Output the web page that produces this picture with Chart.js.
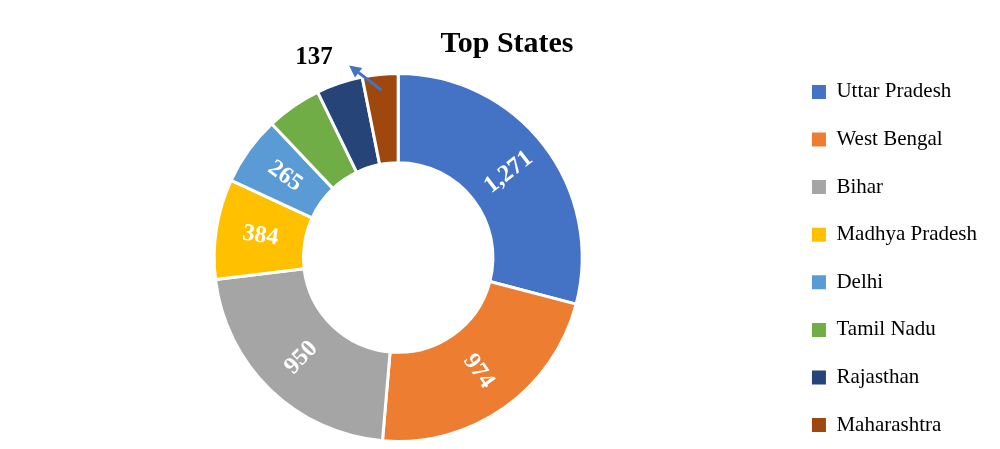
<!DOCTYPE html>
<html>
<head>
<meta charset="utf-8">
<script src="https://cdn.jsdelivr.net/npm/chart.js@4"></script>
<style>
html,body{margin:0;padding:0;background:#fff;}
#wrap{width:1000px;height:449px;}
</style>
</head>
<body>
<div id="wrap"><canvas id="c" width="1000" height="449"></canvas></div>
<script>
// ---- data ----
const categories = ['Uttar Pradesh', 'West Bengal', 'Bihar', 'Madhya Pradesh', 'Delhi', 'Tamil Nadu', 'Rajasthan', 'Maharashtra'];
const cases = [1271, 974, 950, 384, 265, 212, 178, 137];
const sliceColors = ['#4472C4', '#ED7D31', '#A5A5A5', '#FFC000', '#5B9BD5', '#70AD47', '#264478', '#9E480E'];
const labelMode = ['inside', 'inside', 'inside', 'inside', 'inside', 'none', 'none', 'callout'];
const chartTitle = 'Top States';

const SERIF = '"Liberation Serif", "Times New Roman", serif';

const sliceLabels = {
  id: 'sliceLabels',
  afterDatasetsDraw(chart) {
    const ctx = chart.ctx;
    const meta = chart.getDatasetMeta(0);
    const data = chart.data.datasets[0].data;
    meta.data.forEach((arc, i) => {
      const mode = labelMode[i];
      if (mode === 'none') return;
      const p = arc.getProps(['x', 'y', 'startAngle', 'endAngle', 'outerRadius', 'innerRadius'], true);
      const mid = (p.startAngle + p.endAngle) / 2;
      const c = Math.cos(mid), s = Math.sin(mid);
      const text = data[i].toLocaleString('en-US');
      ctx.save();
      if (mode === 'inside') {
        const r = (p.innerRadius + p.outerRadius) / 2;
        let rot = mid;
        if (c < 0) rot += Math.PI;
        ctx.translate(p.x + c * r, p.y + s * r);
        ctx.rotate(rot);
        ctx.font = 'bold 24px ' + SERIF;
        ctx.fillStyle = '#ffffff';
        ctx.textAlign = 'center';
        ctx.textBaseline = 'middle';
        ctx.fillText(text, 0, 0);
      } else {
        const ox = p.x + c * p.outerRadius, oy = p.y + s * p.outerRadius;
        const sx = p.x + c * (p.outerRadius - 16), sy = p.y + s * (p.outerRadius - 16);
        const tx = ox - 31, ty = oy - 9;
        const ang = Math.atan2(ty - sy, tx - sx);
        const headLen = 12, headW = 6;
        const bx = tx - Math.cos(ang) * headLen, by = ty - Math.sin(ang) * headLen;
        ctx.strokeStyle = '#4472C4';
        ctx.fillStyle = '#4472C4';
        ctx.lineWidth = 3;
        ctx.beginPath();
        ctx.moveTo(sx, sy);
        ctx.lineTo(bx, by);
        ctx.stroke();
        ctx.beginPath();
        ctx.moveTo(tx, ty);
        ctx.lineTo(bx + Math.sin(ang) * headW, by - Math.cos(ang) * headW);
        ctx.lineTo(bx - Math.sin(ang) * headW, by + Math.cos(ang) * headW);
        ctx.closePath();
        ctx.fill();
        ctx.font = 'bold 25px ' + SERIF;
        ctx.fillStyle = '#000000';
        ctx.textAlign = 'center';
        ctx.textBaseline = 'middle';
        ctx.fillText(text, ox - 66, oy - 17);
      }
      ctx.restore();
    });
  }
};

const nudge = {
  id: 'nudge',
  afterLayout(chart) {
    const lg = chart.legend;
    lg.top += 37; lg.bottom += 37;
    const t = chart.titleBlock;
    t.left += 8; t.right += 8;
  }
};

new Chart(document.getElementById('c'), {
  type: 'doughnut',
  data: {
    labels: categories,
    datasets: [{
      data: cases,
      backgroundColor: sliceColors,
      borderColor: '#ffffff',
      borderWidth: 3,
      hoverBorderWidth: 3,
      hoverOffset: 0
    }]
  },
  options: {
    responsive: false,
    animation: false,
    events: [],
    cutout: '51.5%',
    layout: { padding: { left: 11, right: 13, top: 0, bottom: 6 } },
    plugins: {
      title: {
        display: true,
        text: chartTitle,
        color: '#000000',
        font: { family: SERIF, size: 30, weight: 'bold' },
        padding: { top: 26, bottom: 10 }
      },
      legend: {
        position: 'right',
        align: 'center',
        labels: {
          boxWidth: 14,
          boxHeight: 14,
          padding: 26.6,
          color: '#000000',
          font: { family: SERIF, size: 21 },
          generateLabels(chart) {
            const items = Chart.overrides.doughnut.plugins.legend.labels.generateLabels(chart);
            items.forEach(it => { it.lineWidth = 0; it.strokeStyle = 'rgba(0,0,0,0)'; });
            return items;
          }
        }
      },
      tooltip: { enabled: false }
    }
  },
  plugins: [sliceLabels, nudge]
});
</script>
</body>
</html>
